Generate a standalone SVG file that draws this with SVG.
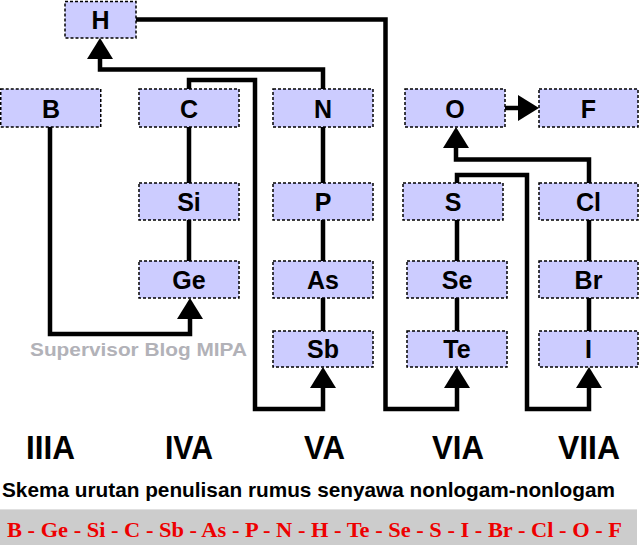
<svg xmlns="http://www.w3.org/2000/svg" width="640" height="545" viewBox="0 0 640 545">
<style>
.box{fill:#ccccff;stroke:#000;stroke-width:1.5;stroke-dasharray:3 2}
.lbl{font-family:"Liberation Sans",Arial,sans-serif;font-weight:bold;font-size:25px;fill:#000;text-anchor:middle}
.grp{font-family:"Liberation Sans",Arial,sans-serif;font-weight:bold;font-size:33px;fill:#000}
.con{fill:none;stroke:#000;stroke-width:4.5;stroke-linejoin:miter}
</style>
<defs>
<marker id="arr" markerUnits="userSpaceOnUse" markerWidth="24" markerHeight="28" refX="0" refY="13" orient="auto" viewBox="0 0 24 26">
<path d="M0,0 L21,13 L0,26 z" fill="#000"/>
</marker>
</defs>
<rect width="640" height="545" fill="#fff"/>
<g id="connectors">
<path class="con" d="M50,127 V334 H190 V319" marker-end="url(#arr)"/>
<path class="con" d="M189,261 V80 H255 V409 H323 V388" marker-end="url(#arr)"/>
<path class="con" d="M323,331 V69.5 H100 V59" marker-end="url(#arr)"/>
<path class="con" d="M136,19.5 H385.5 V409 H457 V388" marker-end="url(#arr)"/>
<path class="con" d="M457,331 V175 H527 V409 H589 V388" marker-end="url(#arr)"/>
<path class="con" d="M589,331 V159.5 H456 V148" marker-end="url(#arr)"/>
<path class="con" d="M505,108 H518" marker-end="url(#arr)"/>
</g>
<g id="H"><rect class="box" x="65" y="1.5" width="71" height="36.5"/><text class="lbl" x="100.5" y="29">H</text></g>
<g id="B"><rect class="box" x="0.75" y="89" width="100" height="38"/><text class="lbl" x="51" y="117.5">B</text></g>
<g id="C"><rect class="box" x="139" y="89" width="100" height="38"/><text class="lbl" x="189" y="117.5">C</text></g>
<g id="N"><rect class="box" x="273" y="89" width="100" height="38"/><text class="lbl" x="323" y="117.5">N</text></g>
<g id="O"><rect class="box" x="405" y="89" width="100" height="38"/><text class="lbl" x="455" y="117.5">O</text></g>
<g id="F"><rect class="box" x="539" y="89" width="99" height="38"/><text class="lbl" x="588.5" y="117.5">F</text></g>
<g id="Si"><rect class="box" x="139" y="183" width="100" height="37"/><text class="lbl" x="189" y="210.5">Si</text></g>
<g id="P"><rect class="box" x="273" y="183" width="100" height="37"/><text class="lbl" x="323" y="210.5">P</text></g>
<g id="S"><rect class="box" x="403" y="183" width="100" height="37"/><text class="lbl" x="453" y="210.5">S</text></g>
<g id="Cl"><rect class="box" x="539" y="183" width="99" height="37"/><text class="lbl" x="588.5" y="210.5">Cl</text></g>
<g id="Ge"><rect class="box" x="139" y="261" width="100" height="37"/><text class="lbl" x="189" y="288.5">Ge</text></g>
<g id="As"><rect class="box" x="273" y="261" width="100" height="37"/><text class="lbl" x="323" y="288.5">As</text></g>
<g id="Se"><rect class="box" x="407" y="261" width="100" height="37"/><text class="lbl" x="457" y="288.5">Se</text></g>
<g id="Br"><rect class="box" x="539" y="261" width="99" height="37"/><text class="lbl" x="588.5" y="288.5">Br</text></g>
<g id="Sb"><rect class="box" x="273" y="331" width="100" height="36"/><text class="lbl" x="323" y="358">Sb</text></g>
<g id="Te"><rect class="box" x="407" y="331" width="100" height="36"/><text class="lbl" x="457" y="358">Te</text></g>
<g id="I"><rect class="box" x="539" y="331" width="99" height="36"/><text class="lbl" x="588.5" y="358">I</text></g>
<text x="30" y="356" font-family="'Liberation Sans',Arial,sans-serif" font-weight="bold" font-size="18" fill="#b2b2b8" textLength="217" lengthAdjust="spacingAndGlyphs">Supervisor Blog MIPA</text>
<g id="groups">
<text class="grp" x="26" y="459" textLength="49" lengthAdjust="spacingAndGlyphs">IIIA</text>
<text class="grp" x="165" y="459" textLength="48" lengthAdjust="spacingAndGlyphs">IVA</text>
<text class="grp" x="304" y="459" textLength="41" lengthAdjust="spacingAndGlyphs">VA</text>
<text class="grp" x="432" y="459" textLength="52" lengthAdjust="spacingAndGlyphs">VIA</text>
<text class="grp" x="558" y="459" textLength="62" lengthAdjust="spacingAndGlyphs">VIIA</text>
</g>
<text x="2" y="497" font-family="'Liberation Sans',Arial,sans-serif" font-weight="bold" font-size="20.5" fill="#000" textLength="613" lengthAdjust="spacingAndGlyphs">Skema urutan penulisan rumus senyawa nonlogam-nonlogam</text>
<rect x="0" y="509" width="637" height="36" fill="#cccccc"/>
<line x1="0" y1="509.5" x2="637" y2="509.5" stroke="#e0e0e0" stroke-width="1"/>
<text x="7" y="537" font-family="'Liberation Serif','Times New Roman',serif" font-weight="bold" font-size="22" fill="#ee0000" textLength="615" lengthAdjust="spacingAndGlyphs">B - Ge - Si - C - Sb - As - P - N - H - Te - Se - S - I - Br - Cl - O - F</text>
</svg>
